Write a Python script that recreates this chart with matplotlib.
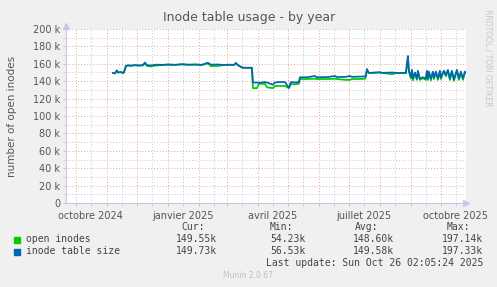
"""
plot.py - Munin style yearly inode table usage chart.
"""
import matplotlib
matplotlib.use("Agg")
import matplotlib.pyplot as plt
import matplotlib.dates as mdates
import pandas as pd

# ---- data (values in thousands) ----
dates = [
    "2024-11-07", "2024-11-09", "2024-11-11", "2024-11-12", "2024-11-15", "2024-11-17",
    "2024-11-18", "2024-11-20", "2024-11-22", "2024-11-25", "2024-11-29", "2024-12-03",
    "2024-12-07", "2024-12-09", "2024-12-11", "2024-12-15", "2024-12-20", "2024-12-26",
    "2025-01-01", "2025-01-08", "2025-01-15", "2025-01-22", "2025-01-28", "2025-02-04",
    "2025-02-10", "2025-02-13", "2025-02-20", "2025-02-26", "2025-03-03", "2025-03-08",
    "2025-03-10", "2025-03-12", "2025-03-15", "2025-03-17", "2025-03-26", "2025-03-27",
    "2025-03-31", "2025-04-02", "2025-04-08", "2025-04-10", "2025-04-16", "2025-04-18",
    "2025-04-22", "2025-04-28", "2025-05-02", "2025-05-04", "2025-05-08", "2025-05-12",
    "2025-05-13", "2025-05-20", "2025-05-28", "2025-05-30", "2025-06-10", "2025-06-17",
    "2025-06-19", "2025-06-28", "2025-07-02", "2025-07-04", "2025-07-10", "2025-07-17",
    "2025-07-18", "2025-07-19", "2025-07-21", "2025-08-01", "2025-08-03", "2025-08-14",
    "2025-08-16", "2025-08-27", "2025-08-28", "2025-08-29", "2025-08-30", "2025-09-01",
    "2025-09-02", "2025-09-03", "2025-09-05", "2025-09-07", "2025-09-08", "2025-09-10",
    "2025-09-13", "2025-09-16", "2025-09-17", "2025-09-18", "2025-09-19", "2025-09-21",
    "2025-09-23", "2025-09-24", "2025-09-26", "2025-09-28", "2025-09-30", "2025-10-01",
    "2025-10-03", "2025-10-04", "2025-10-06", "2025-10-08", "2025-10-10", "2025-10-12",
    "2025-10-14", "2025-10-17", "2025-10-19", "2025-10-21", "2025-10-23", "2025-10-25",
    "2025-10-26",
]
table_size = [
    149.5, 149.0, 152.5, 150.0, 150.5, 149.5,
    150.0, 157.5, 158.3, 157.8, 158.5, 158.0,
    158.5, 161.5, 158.5, 158.0, 159.0, 158.8,
    159.2, 158.9, 159.5, 159.0, 159.3, 158.8,
    161.2, 159.0, 159.2, 158.7, 159.0, 158.8,
    161.0, 158.5, 156.5, 155.5, 155.5, 138.5,
    138.5, 138.0, 139.0, 138.5, 136.0, 138.5,
    139.0, 139.0, 132.5, 139.0, 138.5, 139.0,
    144.5, 144.5, 146.0, 144.5, 144.8, 146.0,
    144.8, 145.0, 146.0, 145.0, 145.2, 145.5,
    146.0, 154.0, 149.5, 150.3, 149.6, 150.0,
    149.5, 149.5, 160.0, 169.0, 152.0, 145.0,
    153.0, 143.0, 150.0, 143.0, 152.0, 143.0,
    144.5, 143.0, 152.0, 143.0, 151.0, 143.0,
    151.0, 144.0, 151.0, 143.0, 152.0, 144.0,
    150.0, 152.0, 147.0, 153.0, 143.0, 152.0,
    142.0, 153.0, 143.0, 151.0, 143.0, 151.0,
    149.7,
]
open_inodes = [
    149.5, 149.0, 152.0, 150.0, 150.5, 149.5,
    150.0, 157.5, 158.0, 157.8, 158.3, 158.0,
    158.2, 160.5, 157.5, 157.0, 158.0, 158.5,
    159.0, 158.7, 159.3, 158.8, 159.0, 158.6,
    160.5, 157.3, 157.5, 158.5, 158.8, 158.6,
    160.5, 158.3, 156.3, 155.3, 155.3, 132.0,
    132.0, 137.0, 137.0, 133.0, 132.0, 134.5,
    134.5, 134.5, 132.0, 136.5, 136.5, 137.0,
    142.5, 142.5, 142.8, 142.5, 142.5, 142.8,
    142.5, 141.5, 141.5, 142.5, 142.5, 142.8,
    145.0, 152.0, 149.5, 150.0, 149.5, 148.0,
    149.5, 149.3, 158.0, 167.0, 151.0, 143.0,
    152.0, 141.0, 149.0, 141.5, 151.0, 141.5,
    143.5, 141.5, 151.0, 141.5, 150.0, 141.0,
    150.0, 142.5, 150.0, 141.5, 151.0, 142.5,
    149.0, 151.0, 145.5, 152.0, 141.5, 151.0,
    140.5, 152.0, 141.5, 150.0, 141.5, 150.0,
    149.6,
]
y_ticks = [0, 20, 40, 60, 80, 100, 120, 140, 160, 180, 200]
y_tick_labels = ["0", "20 k", "40 k", "60 k", "80 k", "100 k", "120 k",
                 "140 k", "160 k", "180 k", "200 k"]
x_label_dates = ["2024-10-16", "2025-01-16", "2025-04-16", "2025-07-16", "2025-10-16"]
x_labels = ["octobre 2024", "janvier 2025", "avril 2025", "juillet 2025", "octobre 2025"]

legend_names = ["open inodes", "inode table size"]
legend_colors = ["#00cc00", "#0066b3"]
stat_cur = ["149.55k", "149.73k"]
stat_min = ["54.23k", "56.53k"]
stat_avg = ["148.60k", "149.58k"]
stat_max = ["197.14k", "197.33k"]

end_time = pd.Timestamp("2025-10-26 02:05:24")
start_time = end_time - pd.Timedelta(days=400)

W, H = 497, 287
BG = "#f0f0f0"
TEXT = "#555555"

fig = plt.figure(figsize=(W / 100, H / 100), dpi=100, facecolor=BG)
ax = fig.add_axes([66 / W, 84 / H, 400 / W, 174 / H], facecolor="white")

t = pd.to_datetime(dates)
ax.plot(t, [v * 1000 for v in open_inodes], color=legend_colors[0], lw=1.25, zorder=3)
ax.plot(t, [v * 1000 for v in table_size], color=legend_colors[1], lw=1.25, zorder=4)

ax.set_xlim(start_time, end_time)
ax.set_ylim(0, 200000)

# grid: red majors, grey minors
ax.set_yticks([v * 1000 for v in y_ticks])
ax.set_yticklabels(y_tick_labels)
ax.set_yticks([v * 1000 + 10000 for v in y_ticks[:-1]], minor=True)
ax.xaxis.set_major_locator(mdates.MonthLocator(bymonthday=1))
ax.xaxis.set_minor_locator(mdates.MonthLocator(bymonthday=16))
ax.xaxis.set_major_formatter(plt.NullFormatter())
dots = (0, (1, 2))
ax.grid(which="major", color="#e8a0a0", linestyle=dots, lw=0.7)
ax.grid(which="minor", color="#c8c8c8", linestyle=dots, lw=0.7)
ax.tick_params(which="both", length=2, width=0.6, color="#e0b0b0", labelsize=7,
               labelcolor=TEXT, pad=2)
ax.tick_params(which="minor", color="#cccccc")

for d, lab in zip(x_label_dates, x_labels):
    ax.text(pd.Timestamp(d), -0.045, lab, transform=ax.get_xaxis_transform(),
            ha="center", va="top", fontsize=7, color=TEXT)

for side in ["top", "right"]:
    ax.spines[side].set_visible(False)
for side in ["left", "bottom"]:
    ax.spines[side].set_color("#c8c8e6")
    ax.spines[side].set_linewidth(0.8)
ax.plot(1.0, 0, ">", transform=ax.transAxes, color="#c8c8f0", ms=4, clip_on=False)
ax.plot(0, 1.02, "^", transform=ax.transAxes, color="#c8c8f0", ms=4, clip_on=False)

# titles
fig.text(249 / W, 1 - 18 / H, "Inode table usage - by year", ha="center", va="center",
         fontsize=9, color=TEXT)
fig.text(12 / W, 1 - 116 / H, "number of open inodes", rotation=90, ha="center",
         va="center", fontsize=7.5, color=TEXT)
fig.text(488 / W, 1 - 58 / H, "RRDTOOL / TOBI OETIKER", rotation=270, ha="center",
         va="center", fontsize=5.5, color="#c8c8c8")

# legend block (monospace like rrdtool)
mono = dict(family="DejaVu Sans Mono", fontsize=7, color="#444444", va="center")
for x, head in zip([193, 281, 367, 458], ["Cur:", "Min:", "Avg:", "Max:"]):
    fig.text(x / W, 1 - 227 / H, head, ha="center", **mono)
for i, name in enumerate(legend_names):
    y = 1 - (239.5 + 12 * i) / H
    fig.patches.append(plt.Rectangle((14 / W, y - 3 / H), 6 / W, 6 / H,
                                     transform=fig.transFigure, color=legend_colors[i]))
    fig.text(26 / W, y, name, ha="left", **mono)
    for x, vals in zip([217, 306, 394, 483], [stat_cur, stat_min, stat_avg, stat_max]):
        fig.text(x / W, y, vals[i], ha="right", **mono)
fig.text(483 / W, 1 - 263.5 / H, "Last update: Sun Oct 26 02:05:24 2025", ha="right", **mono)
fig.text(248 / W, 1 - 276 / H, "Munin 2.0.67", ha="center", va="center", fontsize=5.5,
         color="#c0c0c0")

fig.savefig("out.png", dpi=100, facecolor=BG)
